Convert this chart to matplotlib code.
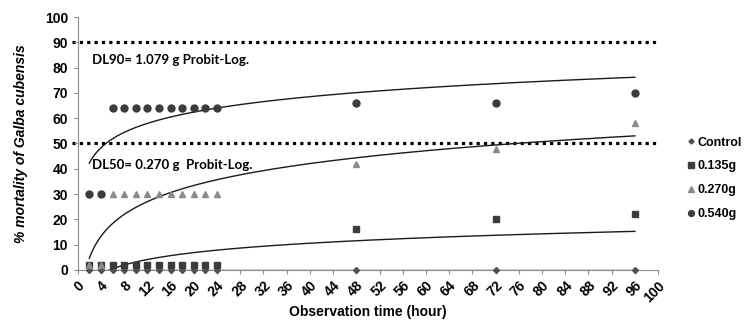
import numpy as np
import matplotlib
matplotlib.use("Agg")
from matplotlib import pyplot as plt

hours = [2, 4, 6, 8, 10, 12, 14, 16, 18, 20, 22, 24, 48, 72, 96]
control = [0, 0, 0, 0, 0, 0, 0, 0, 0, 0, 0, 0, 0, 0, 0]
dose_135 = [2, 2, 2, 2, 2, 2, 2, 2, 2, 2, 2, 2, 16, 20, 22]
dose_270 = [2, 2, 30, 30, 30, 30, 30, 30, 30, 30, 30, 30, 42, 48, 58]
dose_540 = [30, 30, 64, 64, 64, 64, 64, 64, 64, 64, 64, 64, 66, 66, 70]
labels = ["Control", "0.135g", "0.270g", "0.540g"]
dl_levels = [90, 50]
dl_texts = ["DL90= 1.079 g Probit-Log.", "DL50= 0.270 g  Probit-Log."]

plt.rcParams["font.family"] = ["Liberation Sans", "DejaVu Sans"]

fig = plt.figure(figsize=(7.47, 3.21), dpi=100)
ax = fig.add_axes([0.104, 0.159, 0.777, 0.788])

series = [control, dose_135, dose_270, dose_540]
styles = [("D", "#505050", 3), ("s", "#3c3c3c", 4.5), ("^", "#8a8a8a", 4.5), ("o", "#3c3c3c", 5)]
x = np.array(hours, dtype=float)
handles = []
for vals, (m, c, ms), lab in zip(series, styles, labels):
    h, = ax.plot(hours, vals, linestyle="none", marker=m, color=c, markersize=ms,
                 label=lab, zorder=3, clip_on=False)
    handles.append(h)
    # excel style logarithmic trendline
    a, b = np.polyfit(np.log(x), np.array(vals, dtype=float), 1)
    xs = np.linspace(2, 96, 300)
    ax.plot(xs, a * np.log(xs) + b, color="#1a1a1a", linewidth=1.0, zorder=2)

for lev in dl_levels:
    ax.plot([-1, 100], [lev, lev], color="black", linestyle=(0, (1, 1.3)),
            linewidth=2.3, clip_on=False, zorder=1)

ax.text(2.4, 83, dl_texts[0], fontsize=9.5, fontweight="bold", family="Lato",
        va="center", ha="left")
ax.text(2.4, 41.5, dl_texts[1], fontsize=9.5, fontweight="bold", family="Lato",
        va="center", ha="left")

ax.set_xlim(0, 100)
ax.set_ylim(0, 100)
ax.set_xticks(range(0, 101, 4))
ax.set_yticks(range(0, 101, 10))
ax.set_xticklabels([str(v) for v in range(0, 101, 4)], rotation=45,
                   rotation_mode="anchor", fontweight="bold", fontsize=10,
                   ha="right", va="top")
ax.set_yticklabels([str(v) for v in range(0, 101, 10)], fontweight="bold", fontsize=10)
for s in ["top", "right"]:
    ax.spines[s].set_visible(False)
for s in ["left", "bottom"]:
    ax.spines[s].set_color("#8c8c8c")
ax.tick_params(axis="both", direction="out", length=3, color="#8c8c8c")
ax.tick_params(axis="y", pad=4)
ax.tick_params(axis="x", pad=3)

ax.set_xlabel("Observation time (hour)", fontweight="bold", fontsize=10, labelpad=0)
ax.set_ylabel("% mortality of Galba cubensis", fontweight="bold", fontstyle="italic",
              fontsize=10, labelpad=12)

fig.legend(handles=handles, labels=labels, loc="upper left",
           bbox_to_anchor=(0.915, 0.59), frameon=False, handlelength=0.4,
           handletextpad=0.3, labelspacing=0.95, prop={"weight": "bold", "size": 9},
           markerscale=0.85, borderaxespad=0)

fig.savefig("out.png", dpi=100)
